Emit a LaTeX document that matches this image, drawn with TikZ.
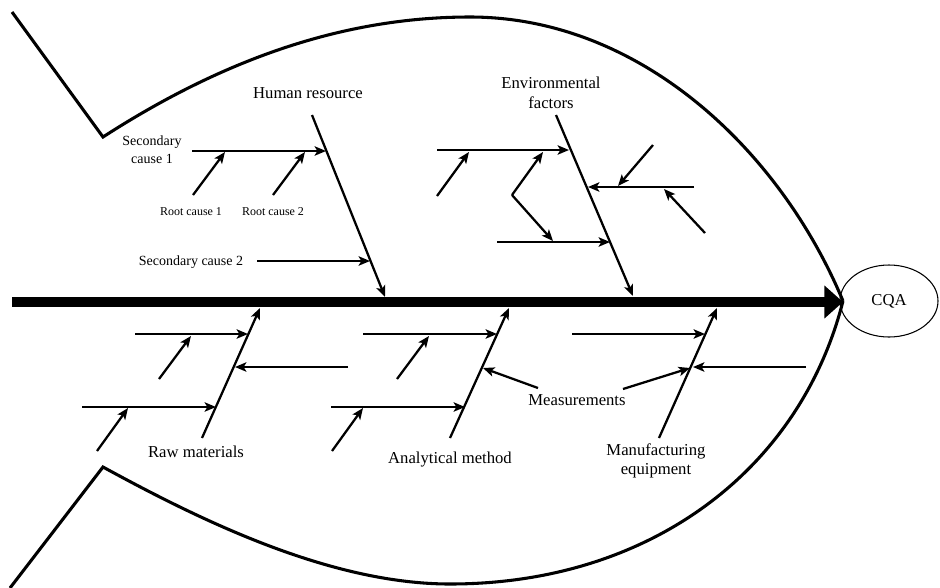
\documentclass[tikz,border=0pt]{standalone}
\usepackage{fontspec}
\setmainfont{Liberation Serif}
\usetikzlibrary{arrows.meta,shapes.geometric}
\begin{document}
\begin{tikzpicture}[x=0.75pt,y=-0.75pt,
  bone/.style={line width=1.7pt,-{Stealth[length=8.5pt,width=7pt,inset=2pt]}},
  outline/.style={line width=2.3pt,line join=miter},
  spine/.style={line width=7.5pt,-{Triangle[length=14pt,width=24pt]}},
  lab/.style={font=\fontsize{12.5}{15}\selectfont,inner sep=0pt,align=center},
  sec/.style={font=\fontsize{10.5}{13.5}\selectfont,inner sep=0pt,align=center},
  rootlab/.style={font=\fontsize{9}{11}\selectfont,inner sep=0pt},
  cqa/.style={ellipse,draw,line width=0.8pt,minimum width=73.5pt,minimum height=54pt,inner sep=0pt,outer sep=0pt,font=\fontsize{12.5}{15}\selectfont}
]
\useasboundingbox (0,0) rectangle (940,587);

% fish outline
\coordinate (tl) at (12,12);
\coordinate (tv) at (103,137);
\coordinate (top) at (470,17);
\coordinate (tip) at (843,301);
\coordinate (bl) at (10,588);
\coordinate (bv) at (103,467);
\coordinate (bot) at (450,584);
\draw[outline] (tl) -- (tv) .. controls (230,55) and (350,17) .. (top)
  .. controls (640,17) and (780,150) .. (tip);
\draw[outline] (bl) -- (bv) .. controls (200,520) and (330,584) .. (bot)
  .. controls (650,584) and (800,470) .. (tip);

% spine and head
\coordinate (tail) at (12,302);
\coordinate (head) at (843,302);
\draw[spine] (tail) -- (head);
\node[cqa] (cqa) at (889,301) {CQA};

% labels
\node[lab] (hrlab) at (308,93) {Human resource};
\node[lab] (envlab) at (551,93) {Environmental\\factors};
\node[sec] (sc1) at (152,150) {Secondary\\cause 1};
\node[rootlab] (rc1) at (191,212) {Root cause 1};
\node[rootlab] (rc2) at (273,212) {Root cause 2};
\node[sec] (sc2) at (191,262) {Secondary cause 2};
\node[lab] (raw) at (196,452) {Raw materials};
\node[lab] (anal) at (450,460) {Analytical method};
\node[lab] (meas) at (577,400) {Measurements};
\node[lab,font=\fontsize{12.5}{14.3}\selectfont] (manu) at (656,461) {Manufacturing\\equipment};

% Human resource
\coordinate (hrA) at (312,115);
\coordinate (hrB) at (385,297);
\draw[bone] (hrA) -- (hrB);
\coordinate (s1A) at (192,151);
\coordinate (s1B) at (326,151);
\draw[bone] (s1A) -- (s1B);
\coordinate (r1A) at (193,195);
\coordinate (r1B) at (225,152);
\draw[bone] (r1A) -- (r1B);
\coordinate (r2A) at (273,195);
\coordinate (r2B) at (305,152);
\draw[bone] (r2A) -- (r2B);
\coordinate (s2A) at (257,261);
\coordinate (s2B) at (370,261);
\draw[bone] (s2A) -- (s2B);

% Environmental factors
\coordinate (efA) at (556,115);
\coordinate (efB) at (633,296);
\draw[bone] (efA) -- (efB);
\coordinate (e1A) at (437,150);
\coordinate (e1B) at (569,150);
\draw[bone] (e1A) -- (e1B);
\coordinate (e1rA) at (437,196);
\coordinate (e1rB) at (469,152);
\draw[bone] (e1rA) -- (e1rB);
\coordinate (zz) at (512,195);
\coordinate (zzU) at (543,152);
\coordinate (zzD) at (553,241);
\draw[bone] (zz) -- (zzU);
\draw[bone] (zz) -- (zzD);
\coordinate (e2A) at (497,242);
\coordinate (e2B) at (610,242);
\draw[bone] (e2A) -- (e2B);
\coordinate (e3A) at (694,187);
\coordinate (e3B) at (588,187);
\draw[bone] (e3A) -- (e3B);
\coordinate (e3rA) at (653,145);
\coordinate (e3rB) at (618,186);
\draw[bone] (e3rA) -- (e3rB);
\coordinate (e3sA) at (705,233);
\coordinate (e3sB) at (664,189);
\draw[bone] (e3sA) -- (e3sB);

% Raw materials
\coordinate (rmA) at (202,438);
\coordinate (rmB) at (260,308);
\draw[bone] (rmA) -- (rmB);
\coordinate (m1A) at (135,334);
\coordinate (m1B) at (248,334);
\draw[bone] (m1A) -- (m1B);
\coordinate (m1rA) at (159,379);
\coordinate (m1rB) at (191,336);
\draw[bone] (m1rA) -- (m1rB);
\coordinate (m2A) at (348,367);
\coordinate (m2B) at (235,367);
\draw[bone] (m2A) -- (m2B);
\coordinate (m3A) at (82,407);
\coordinate (m3B) at (216,407);
\draw[bone] (m3A) -- (m3B);
\coordinate (m3rA) at (97,451);
\coordinate (m3rB) at (128,408);
\draw[bone] (m3rA) -- (m3rB);

% Analytical method
\coordinate (amA) at (450,438);
\coordinate (amB) at (509,308);
\draw[bone] (amA) -- (amB);
\coordinate (a1A) at (363,334);
\coordinate (a1B) at (497,334);
\draw[bone] (a1A) -- (a1B);
\coordinate (a1rA) at (397,379);
\coordinate (a1rB) at (429,336);
\draw[bone] (a1rA) -- (a1rB);
\coordinate (a2A) at (331,407);
\coordinate (a2B) at (465,407);
\draw[bone] (a2A) -- (a2B);
\coordinate (a2rA) at (332,451);
\coordinate (a2rB) at (363,408);
\draw[bone] (a2rA) -- (a2rB);

% Manufacturing equipment
\coordinate (meA) at (659,438);
\coordinate (meB) at (717,308);
\draw[bone] (meA) -- (meB);
\coordinate (q1A) at (572,334);
\coordinate (q1B) at (705,334);
\draw[bone] (q1A) -- (q1B);
\coordinate (q2A) at (806,367);
\coordinate (q2B) at (693,367);
\draw[bone] (q2A) -- (q2B);

% Measurements
\coordinate (msL) at (538,388);
\coordinate (msLt) at (483,368);
\draw[bone] (msL) -- (msLt);
\coordinate (msR) at (623,389);
\coordinate (msRt) at (690,368);
\draw[bone] (msR) -- (msRt);
\end{tikzpicture}
\end{document}
